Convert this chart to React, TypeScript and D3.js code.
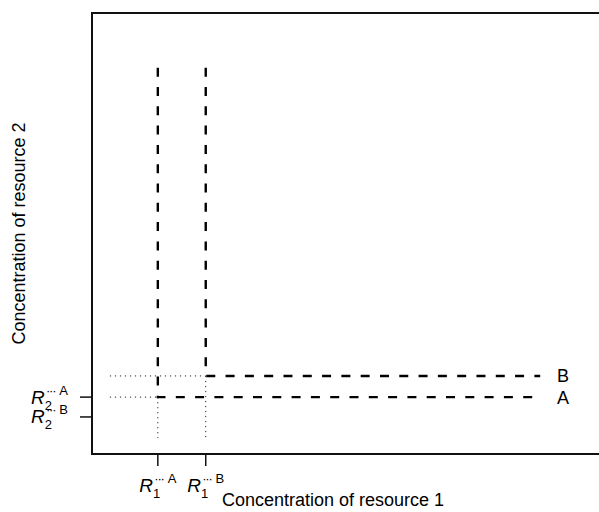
import React from "react";
import * as d3 from "d3";

// Data (in plot units)
const speciesNames = ["A", "B"];
const rStar1 = [13.6, 23.5]; // R1* for A, B
const rStar2 = [12.9, 17.7]; // R2* levels for A, B (drawn isoclines)
const yTickValues = [12.9, 8.4]; // tick positions on resource 2 axis
const yTickSpecies = ["A", "B"];
const xTickSpecies = ["A", "B"];
const isoTop = 87.6;
const isoRight = 92.6;
const labelX = 97.3;
const guideStart = 3.7;
const guideBottom = 3.6;

const W = 599;
const H = 512;
const left = 92, top = 13, bottom = 454, right = 576;

export default function App() {
  const x = d3.scaleLinear().domain([0, 100]).range([left, right]);
  const y = d3.scaleLinear().domain([0, 100]).range([bottom, top]);
  const font = "'Liberation Sans', Arial, Helvetica, sans-serif";

  const rLabel = (sub: string, sup: string) => (
    <>
      <tspan fontStyle="italic">R</tspan>
      <tspan fontSize={13} dy={6}>{sub}</tspan>
      <tspan fontSize={13} dx={-6} dy={-15} letterSpacing={-1.2}>···</tspan>
      <tspan fontSize={13} dx={4}>{sup}</tspan>
    </>
  );

  return (
    <svg width={W} height={H} style={{ position: "absolute", left: 0, top: 0 }} fontFamily={font}>
      <rect width={W} height={H} fill="white" />
      {/* box: left, top, bottom */}
      <path d={`M${W},${top} H${left} V${bottom} H${W}`} fill="none" stroke="#111" strokeWidth={2} />

      {/* dotted guides */}
      {speciesNames.map((s, i) => {
        const px = x(rStar1[i]);
        const py = y(rStar2[i]);
        return (
          <g key={"g" + s} stroke="#222" strokeWidth={1} strokeDasharray="1.2,3.8" fill="none">
            <line x1={x(guideStart)} x2={px} y1={py} y2={py} />
            <line x1={px} x2={px} y1={py} y2={y(guideBottom)} />
          </g>
        );
      })}

      {/* isoclines */}
      {speciesNames.map((s, i) => {
        const px = x(rStar1[i]);
        const py = y(rStar2[i]);
        return (
          <path
            key={"iso" + s}
            d={`M${px},${y(isoTop)} V${py} H${x(isoRight)}`}
            fill="none"
            stroke="black"
            strokeWidth={2.4}
            strokeDasharray="9,10.3"
          />
        );
      })}
      {speciesNames.map((s, i) => (
        <text key={"lab" + s} x={x(labelX)} y={y(rStar2[i]) + 6.5} fontSize={18} textAnchor="middle">
          {s}
        </text>
      ))}

      {/* y ticks */}
      {yTickValues.map((v, i) => (
        <g key={"yt" + i}>
          <line x1={left - 12} x2={left} y1={y(v)} y2={y(v)} stroke="#111" strokeWidth={1.5} />
          <text x={68} y={y(v) + 6.5} fontSize={19} textAnchor="end">
            {rLabel("2", yTickSpecies[i])}
          </text>
        </g>
      ))}

      {/* x ticks */}
      {rStar1.map((v, i) => (
        <g key={"xt" + i}>
          <line x1={x(v)} x2={x(v)} y1={bottom} y2={bottom + 12} stroke="#111" strokeWidth={1.5} />
          <text x={x(v)} y={492} fontSize={19} textAnchor="middle">
            {rLabel("1", xTickSpecies[i])}
          </text>
        </g>
      ))}

      {/* axis titles */}
      <text x={333} y={506} fontSize={18} textAnchor="middle">Concentration of resource 1</text>
      <text transform={`translate(25,${(top + bottom) / 2}) rotate(-90)`} fontSize={18} textAnchor="middle">
        Concentration of resource 2
      </text>
    </svg>
  );
}
